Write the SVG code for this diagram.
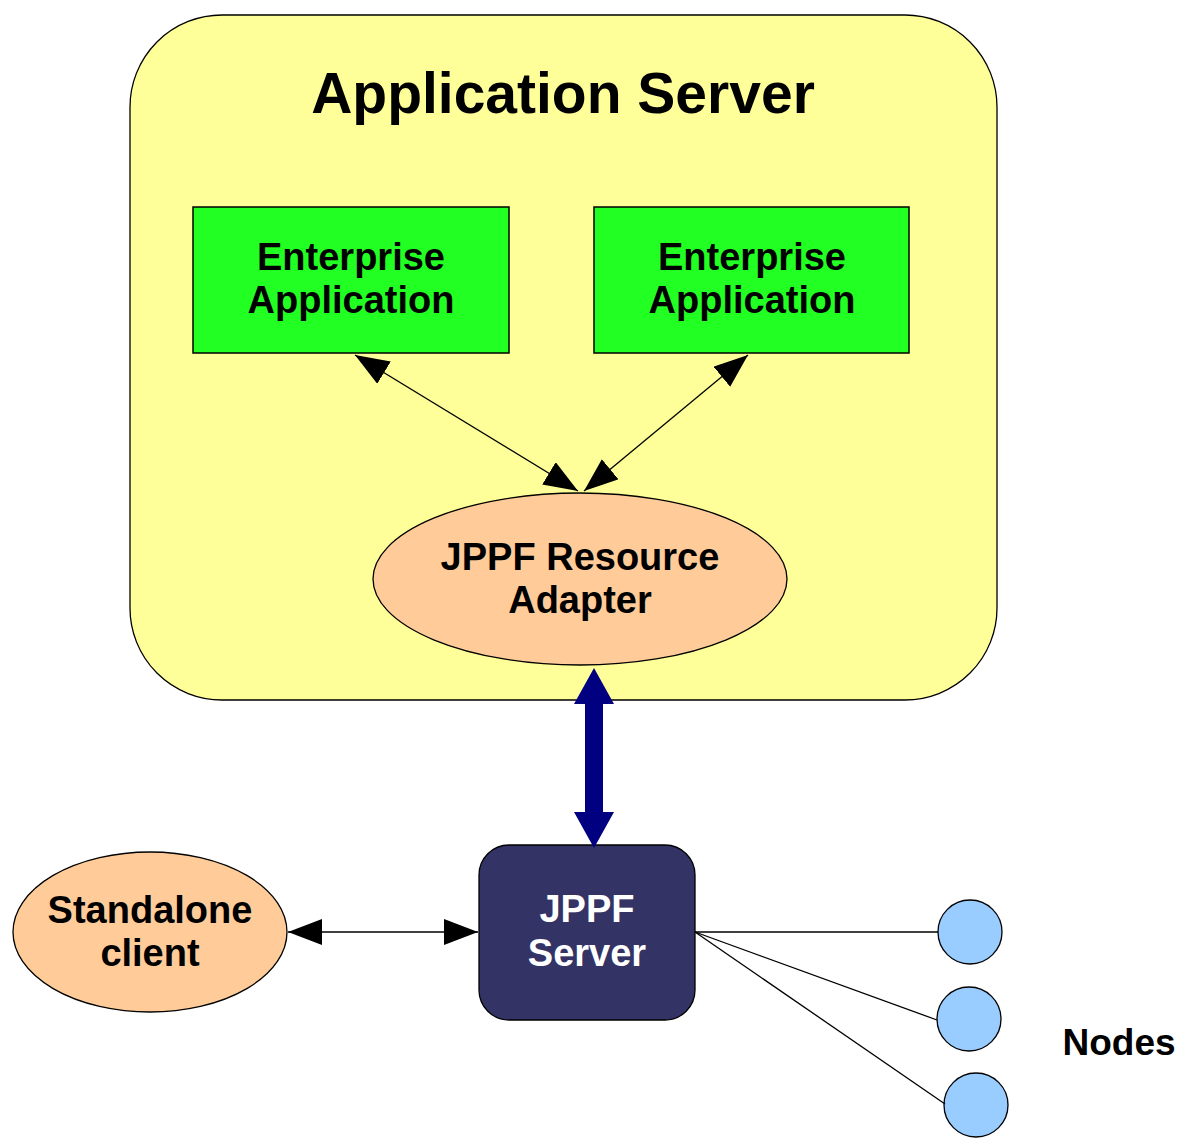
<svg xmlns="http://www.w3.org/2000/svg" width="1180" height="1147" viewBox="0 0 1180 1147">
<style>
text{font-family:"Liberation Sans",Arial,sans-serif;font-weight:bold;text-anchor:middle;fill:#000}
.thin{stroke:#000;stroke-width:1.3;fill:none}
</style>
<defs>
<marker id="ah" markerUnits="userSpaceOnUse" markerWidth="40" markerHeight="30" refX="34" refY="13" orient="auto-start-reverse" viewBox="0 0 40 30">
<path d="M0,0 L34,13 L0,26 Z" fill="#000"/>
</marker>
</defs>
<rect width="1180" height="1147" fill="#fff"/>
<g id="app-server">
<rect x="130" y="15" width="867" height="685" rx="92" ry="92" fill="#ffff99" stroke="#000" stroke-width="1.3"/>
<text x="563" y="113" font-size="57">Application Server</text>
</g>
<g id="enterprise-app-1">
<rect x="193" y="207" width="316" height="146" fill="#22ff22" stroke="#000" stroke-width="1.5"/>
<text x="351" y="270" font-size="38">Enterprise</text>
<text x="351" y="313" font-size="38">Application</text>
</g>
<g id="enterprise-app-2">
<rect x="594" y="207" width="315" height="146" fill="#22ff22" stroke="#000" stroke-width="1.5"/>
<text x="752" y="270" font-size="38">Enterprise</text>
<text x="752" y="313" font-size="38">Application</text>
</g>
<g id="resource-adapter">
<ellipse cx="580" cy="579" rx="207" ry="86" fill="#ffcc99" stroke="#000" stroke-width="1.3"/>
<text x="580" y="570" font-size="38">JPPF Resource</text>
<text x="580" y="613" font-size="38">Adapter</text>
</g>
<g id="jppf-server">
<rect x="479" y="845" width="216" height="175" rx="30" ry="30" fill="#333366" stroke="#000" stroke-width="1.3"/>
<text x="587" y="922" font-size="38" style="fill:#fff">JPPF</text>
<text x="587" y="966" font-size="38" style="fill:#fff">Server</text>
</g>
<g id="standalone-client">
<ellipse cx="150" cy="932" rx="137" ry="80" fill="#ffcc99" stroke="#000" stroke-width="1.3"/>
<text x="150" y="923" font-size="38">Standalone</text>
<text x="150" y="966" font-size="38">client</text>
</g>
<g id="node-1"><circle cx="970" cy="932" r="32" fill="#99ccff" stroke="#000" stroke-width="1.3"/></g>
<g id="node-2"><circle cx="969" cy="1019" r="32" fill="#99ccff" stroke="#000" stroke-width="1.3"/></g>
<g id="node-3"><circle cx="976" cy="1105" r="32" fill="#99ccff" stroke="#000" stroke-width="1.3"/></g>
<g id="nodes-label"><text x="1119" y="1055" font-size="37">Nodes</text></g>
<g id="connectors">
<line class="thin" x1="355" y1="355" x2="578" y2="491" marker-start="url(#ah)" marker-end="url(#ah)"/>
<line class="thin" x1="748" y1="355" x2="584" y2="491" marker-start="url(#ah)" marker-end="url(#ah)"/>
<path d="M594,668 L614,704 L603,704 L603,812 L614,812 L594,848 L574,812 L585,812 L585,704 L574,704 Z" fill="#000080"/>
<line class="thin" x1="288" y1="932" x2="478" y2="932" marker-start="url(#ah)" marker-end="url(#ah)"/>
<line class="thin" x1="695" y1="932" x2="938" y2="932"/>
<line class="thin" x1="695" y1="932" x2="937" y2="1020"/>
<line class="thin" x1="695" y1="932" x2="945" y2="1104"/>
</g>
</svg>
